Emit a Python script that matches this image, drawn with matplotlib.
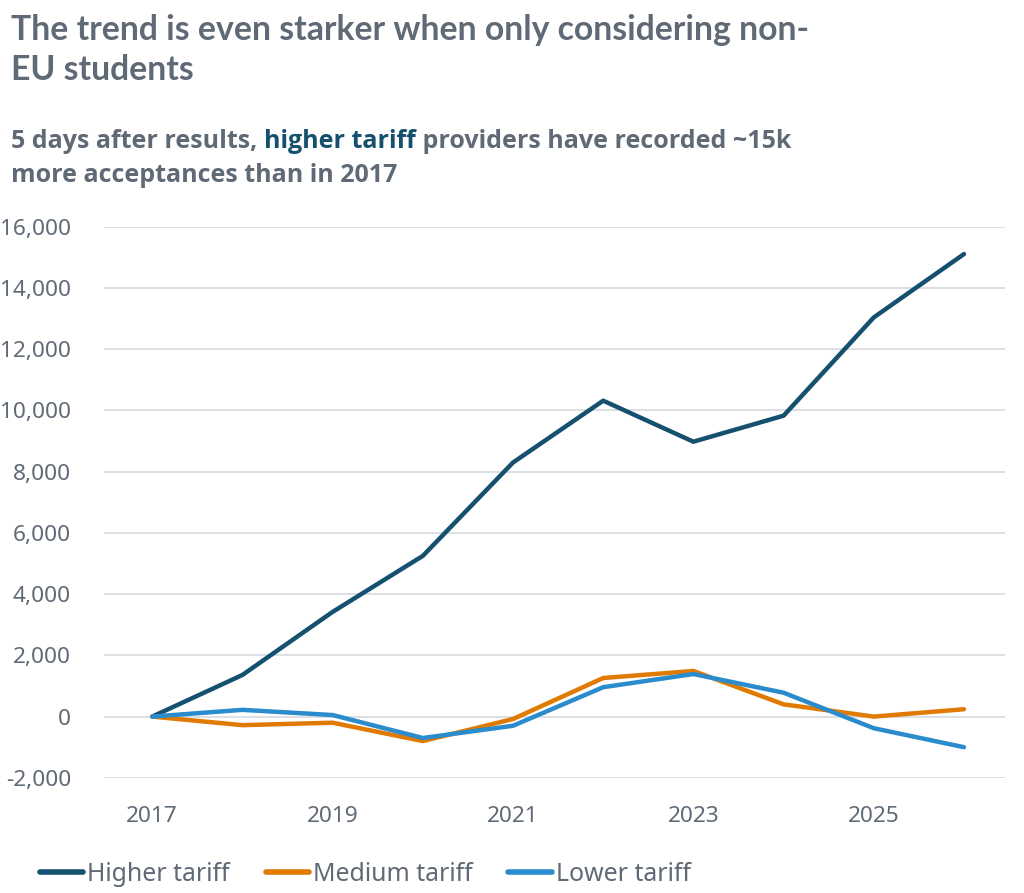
import matplotlib
matplotlib.use("Agg")
import matplotlib.pyplot as plt
from matplotlib.ticker import FuncFormatter

years = [2017, 2018, 2019, 2020, 2021, 2022, 2023, 2024, 2025, 2026]
higher_tariff = [0, 1360, 3420, 5250, 8300, 10320, 8980, 9830, 13040, 15110]
medium_tariff = [0, -280, -200, -800, -80, 1260, 1490, 400, 0, 240]
lower_tariff = [0, 220, 50, -700, -300, 960, 1390, 780, -380, -1000]

series_labels = ["Higher tariff", "Medium tariff", "Lower tariff"]
series_colors = ["#16506f", "#e07a00", "#2a8bcd"]
x_ticks = [2017, 2019, 2021, 2023, 2025]
y_ticks = list(range(-2000, 16001, 2000))

title_text = "The trend is even starker when only considering non-\nEU students"
subtitle_parts = [
    ("5 days after results, ", "#5f6a76"),
    ("higher tariff", "#16506f"),
    (" providers have recorded ~15k", "#5f6a76"),
]
subtitle_line2 = "more acceptances than in 2017"

TEXT_GREY = "#5f6a76"
GRID_GREY = "#d9dde2"
SUB_FONT = ["Open Sans", "DejaVu Sans"]

plt.rcParams["font.family"] = ["Noto Sans", "DejaVu Sans"]

fig = plt.figure(figsize=(10.24, 8.93), dpi=100)
ax = fig.add_axes([0.102, 0.129, 0.879, 0.617])

for values, label, color in zip([higher_tariff, medium_tariff, lower_tariff], series_labels, series_colors):
    ax.plot(years, values, color=color, linewidth=3.2, label=label, solid_capstyle="round")

ax.set_xlim(2016.47, 2026.45)
ax.set_ylim(-2000, 16000)
ax.set_xticks(x_ticks)
ax.set_yticks(y_ticks)
ax.yaxis.set_major_formatter(FuncFormatter(lambda v, _: "{:,.0f}".format(v)))
ax.grid(axis="y", color=GRID_GREY, linewidth=1.3)
ax.set_axisbelow(True)
for spine in ax.spines.values():
    spine.set_visible(False)
ax.tick_params(axis="both", length=0, labelsize=16.3, colors=TEXT_GREY)
ax.tick_params(axis="x", pad=20)
ax.tick_params(axis="y", pad=24)

fig.text(0.011, 0.984, title_text, fontsize=24.3, fontweight="bold", color=TEXT_GREY,
         family=["Lato", "DejaVu Sans"], va="top", linespacing=1.3)

# subtitle with highlighted phrase
renderer = fig.canvas.get_renderer()
x_pos = 0.011
for text, color in subtitle_parts:
    t = fig.text(x_pos, 0.842, text, fontsize=18, fontweight="bold", color=color,
                 family=SUB_FONT, va="center")
    bbox = t.get_window_extent(renderer=renderer)
    x_pos = bbox.x1 / fig.bbox.width
fig.text(0.011, 0.804, subtitle_line2, fontsize=18, fontweight="bold", color=TEXT_GREY,
         family=SUB_FONT, va="center")

leg = fig.legend(loc="center left", bbox_to_anchor=(0.017, 0.021), ncol=3, frameon=False,
                 fontsize=17.9, handlelength=1.75, handletextpad=0.15, columnspacing=1.45)
for txt in leg.get_texts():
    txt.set_color(TEXT_GREY)
for line in leg.get_lines():
    line.set_linewidth(4)

fig.savefig("out.png", dpi=100)
